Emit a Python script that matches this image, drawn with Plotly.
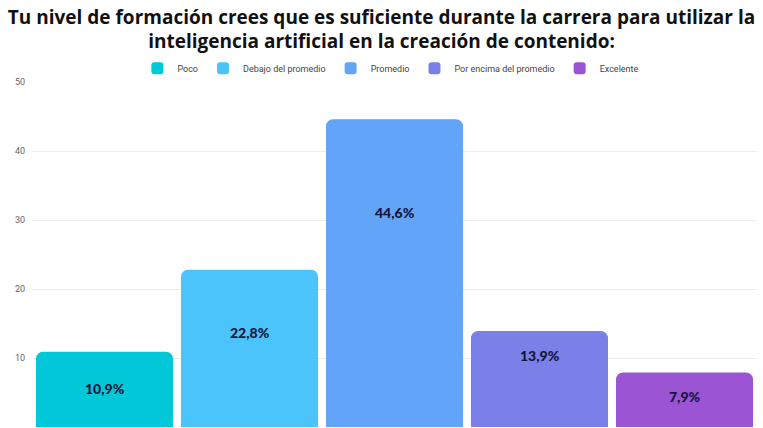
import plotly.graph_objects as go

# Survey answers and their shares (%)
categories = ["Poco", "Debajo del promedio", "Promedio", "Por encima del promedio", "Excelente"]
values = [10.9, 22.8, 44.6, 13.9, 7.9]
colors = ["#00C8D8", "#4AC4FA", "#62A4F8", "#7A80E8", "#9B55D4"]
# height (axis units) at which each percentage label sits inside its bar
label_heights = [5.6, 13.7, 31.1, 10.3, 4.4]
y_ticks = [0, 10, 20, 30, 40, 50]

fig = go.Figure()
for cat, val, col in zip(categories, values, colors):
    fig.add_trace(go.Bar(
        x=[cat], y=[val], name=cat,
        marker=dict(color=col, line=dict(width=0), cornerradius=7),
        hoverinfo="skip",
    ))

for cat, val, h in zip(categories, values, label_heights):
    fig.add_annotation(
        x=cat, y=h, xref="x", yref="y",
        text=f"{val:.1f}%".replace(".", ","),
        showarrow=False,
        font=dict(family="Lato", size=14, color="#14143A", weight=900),
    )

fig.update_layout(
    width=763, height=428,
    margin=dict(l=32, r=6, t=82, b=1),
    paper_bgcolor="white", plot_bgcolor="white",
    title=dict(
        text="Tu nivel de formación crees que es suficiente durante la carrera para utilizar la<br>inteligencia artificial en la creación de contenido:",
        x=0.5, xanchor="center", xref="container",
        y=0.945, yanchor="middle", yref="container",
        font=dict(family="Open Sans", size=19, color="#111111", weight="bold"),
    ),
    barmode="group", bargap=0.055,
    showlegend=True,
    legend=dict(
        orientation="h", x=0.495, xanchor="center", y=1.04, yanchor="middle",
        font=dict(family="Roboto", size=9, color="#444444"),
        itemwidth=30, tracegroupgap=0,
    ),
    xaxis=dict(showticklabels=False, showgrid=False, zeroline=False, showline=False,
               ticks=""),
    yaxis=dict(range=[0, 50], tickvals=y_ticks, showgrid=True, gridcolor="#EDEDED",
               gridwidth=1, zeroline=False, showline=False,
               tickfont=dict(family="Roboto", size=9, color="#666666"), ticklabelstandoff=6),
)

fig.write_html("out.html")
